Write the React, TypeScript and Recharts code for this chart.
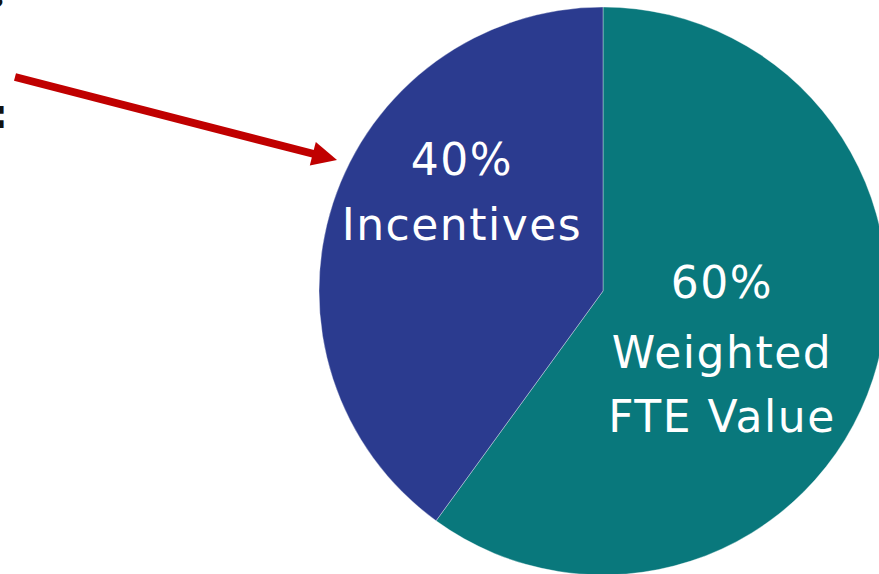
import React from "react";
import { PieChart, Pie, Cell } from "recharts";

const categories = ["Weighted FTE Value", "Incentives"];
const values = [60, 40];
const labelLines = [["Weighted", "FTE Value"], ["Incentives"]];
const colors = ["#09787c", "#2b3b8f"];

const data = categories.map((name, i) => ({ name, value: values[i] }));

const labelLayout: Record<string, { dx: number; dy: number[] }> = {
  "Weighted FTE Value": { dx: 119, dy: [7, 77, 141] },
  Incentives: { dx: -141, dy: [-116, -51] },
};

const FONT = "'DejaVu Sans', sans-serif";

const renderLabel = (props: any) => {
  const { cx, cy, percent, index, name } = props;
  const lay = labelLayout[name];
  if (!lay) return null;
  const lines = [`${Math.round(percent * 100)}%`, ...labelLines[index]];
  return (
    <text
      key={`lbl-${index}`}
      fill="#ffffff"
      textAnchor="middle"
      fontFamily={FONT}
      fontSize={44}
      letterSpacing={1.5}
    >
      {lines.map((l, j) => (
        <tspan key={j} x={cx + lay.dx} y={cy + lay.dy[j]}>
          {l}
        </tspan>
      ))}
    </text>
  );
};

export default function App() {
  return (
    <div
      style={{
        position: "fixed",
        left: 0,
        top: 0,
        width: 879,
        height: 574,
        background: "#ffffff",
        overflow: "hidden",
      }}
    >
      <PieChart width={879} height={574} margin={{ top: 0, right: 0, bottom: 0, left: 0 }}>
        <Pie
          data={data}
          dataKey="value"
          nameKey="name"
          cx={603}
          cy={291}
          outerRadius={284}
          innerRadius={0}
          startAngle={90}
          endAngle={-270}
          stroke="#ffffff"
          strokeWidth={1}
          strokeOpacity={0.35}
          label={renderLabel}
          labelLine={false}
          isAnimationActive={false}
        >
          {data.map((d, i) => (
            <Cell key={d.name} fill={colors[i]} />
          ))}
        </Pie>
      </PieChart>
      <svg
        width={879}
        height={574}
        style={{ position: "absolute", left: 0, top: 0, pointerEvents: "none" }}
      >
        <text x={-9} y={14} fontFamily={FONT} fontSize={22} fontWeight="bold" fill="#111">
          ?
        </text>
        <text x={-8} y={128} fontFamily={FONT} fontSize={40} fontWeight="bold" fill="#111">
          :
        </text>
        <line x1={15} y1={77} x2={314} y2={154} stroke="#c00000" strokeWidth={8} />
        <polygon points="337,160 309.8,165.4 315.8,142.1" fill="#c00000" />
      </svg>
    </div>
  );
}
